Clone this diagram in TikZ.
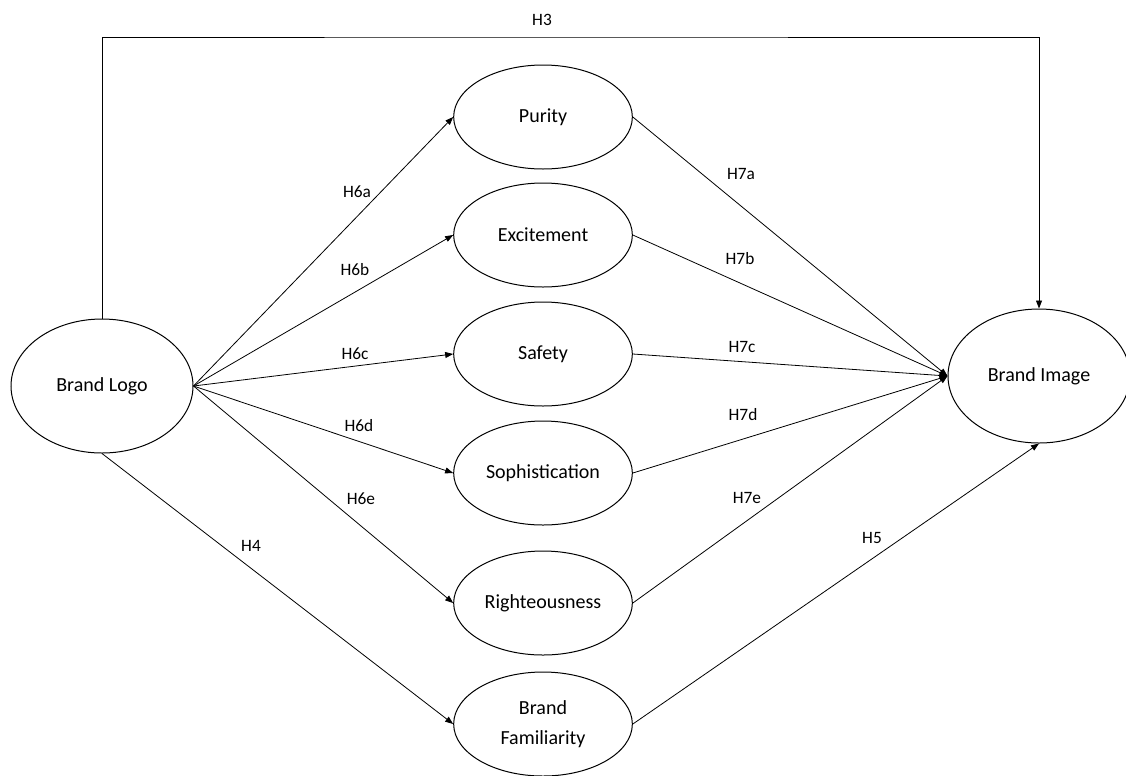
\documentclass[tikz,border=0pt]{standalone}
\usepackage{fontspec}
\setmainfont{Carlito}
\usetikzlibrary{arrows.meta,shapes.geometric}

\tikzset{
  construct/.style={ellipse,draw,line width=0.75pt,minimum width=134pt,minimum height=78pt,
    inner sep=0pt,align=center,font=\fontsize{15}{22.5}\selectfont},
  bigconstruct/.style={construct,minimum width=136.5pt,minimum height=100.5pt},
  hyp/.style={font=\fontsize{13}{15}\selectfont},
  link/.style={-{Triangle[length=6pt,width=4.5pt]},line width=0.6pt}
}

\begin{document}
\begin{tikzpicture}[x=0.75pt,y=-0.75pt]
   \useasboundingbox (0,0) rectangle (1126,775);
   \node (logo) at (102,386) [bigconstruct] {Brand Logo};
   \node (image) at (1039,376) [bigconstruct] {Brand Image};
   \node (purity) at (543,117) [construct] {Purity};
   \node (excite) at (543,235) [construct] {Excitement};
   \node (safety) at (543,354) [construct] {Safety};
   \node (sophis) at (543,473) [construct] {Sophistication};
   \node (right) at (543,603) [construct] {Righteousness};
   \node (famil) at (543,724) [construct] {Brand\\Familiarity};
   \coordinate (top) at (542,37);
   \draw[link] (logo.north) |- (top) -| (image.north);
   \draw[link] (logo.east) -- (purity.west);
   \draw[link] (logo.east) -- (excite.west);
   \draw[link] (logo.east) -- (safety.west);
   \draw[link] (logo.east) -- (sophis.west);
   \draw[link] (logo.east) -- (right.west);
   \draw[link] (logo.south) -- (famil.west);
   \draw[link] (purity.east) -- (image.west);
   \draw[link] (excite.east) -- (image.west);
   \draw[link] (safety.east) -- (image.west);
   \draw[link] (sophis.east) -- (image.west);
   \draw[link] (right.east) -- (image.west);
   \draw[link] (famil.east) -- (image.south);
   \node (h3) at (542,20) [hyp] {H3};
   \node (h6a) at (357,192) [hyp] {H6a};
   \node (h6b) at (355,270) [hyp] {H6b};
   \node (h6c) at (355,354) [hyp] {H6c};
   \node (h6d) at (359,426) [hyp] {H6d};
   \node (h6e) at (361,499) [hyp] {H6e};
   \node (h4) at (251,546) [hyp] {H4};
   \node (h7a) at (741,174) [hyp] {H7a};
   \node (h7b) at (740,259) [hyp] {H7b};
   \node (h7c) at (742,347) [hyp] {H7c};
   \node (h7d) at (743,415) [hyp] {H7d};
   \node (h7e) at (747,498) [hyp] {H7e};
   \node (h5) at (872,538) [hyp] {H5};
  \end{tikzpicture}
\end{document}
